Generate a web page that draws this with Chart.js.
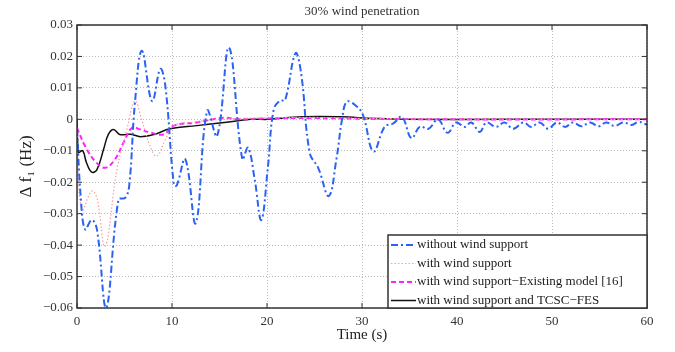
<!DOCTYPE html>
<html>
<head>
    <title>30% wind penetration</title>
    <script src="https://cdn.jsdelivr.net/npm/chart.js"></script>
    <style>
        body { margin: 0; background: #fff; }
        .container { width: 675px; height: 352px; }
    </style>
</head>
<body>
    <div class="container">
        <canvas id="freqChart" width="675" height="352"></canvas>
    </div>
    <script>
        // values
        const chartTitle = '30% wind penetration';
        const yTicks = [0.03, 0.02, 0.01, 0, -0.01, -0.02, -0.03, -0.04, -0.05, -0.06];
        const xTicks = [0, 10, 20, 30, 40, 50, 60];

        const noWindT = [0, 0.4, 0.85, 1.55, 2.1, 3.06, 4.37, 5.07, 5.5, 6.1, 6.83, 7.9, 8.77, 9.3, 10.2, 10.5, 11.4, 12.5, 13.7, 14.75, 16.0, 17.4, 18.0, 18.7, 19.4, 20.1, 20.7, 21.4, 21.9, 23.0, 23.6, 24.5, 25.4, 26.5, 27.3, 27.9, 28.4, 29.3, 30.1, 31.2, 32.4, 33.3, 34.2, 35.2, 36.1, 37.0, 38.0, 39.0, 39.9, 40.8, 41.5, 42.4, 43.1, 44.1, 45.0, 45.9, 47.0, 47.8, 48.7, 49.6, 50.5, 51.4, 52.2, 53.1, 54.0, 54.9, 55.7, 56.6, 57.5, 58.4, 59.1, 60];
        const noWindV = [-0.003, -0.025, -0.035, -0.032, -0.035, -0.06, -0.0255, -0.025, -0.021, 0.0053, 0.0218, 0.0058, 0.016, 0.0106, -0.021, -0.021, -0.0127, -0.033, 0.0027, -0.0053, 0.0228, -0.0127, -0.009, -0.019, -0.032, -0.015, 0.003, 0.006, 0.006, 0.021, 0.0145, -0.0107, -0.0155, -0.0244, -0.0128, 0, 0.0056, 0.0045, 0.0014, -0.0102, -0.0023, -0.0013, 0.0008, -0.006, -0.0023, -0.003, 0, -0.0043, -0.001, -0.0024, -0.001, -0.004, -0.001, -0.0024, -0.001, -0.003, -0.001, -0.0024, -0.001, -0.003, -0.001, -0.0024, -0.001, -0.0022, -0.001, -0.0022, -0.001, -0.0021, -0.001, -0.0018, -0.0008, -0.0017];

        const windT = [0, 0.5, 1.55, 2.1, 2.96, 4.2, 5.25, 6.1, 6.8, 7.7, 8.4, 9.3, 10.2, 12, 15, 20, 25, 30, 40, 60];
        const windV = [-0.003, -0.029, -0.0228, -0.025, -0.0403, -0.016, -0.0032, 0.0058, 0, -0.0085, -0.0117, -0.0064, -0.002, -0.001, 0, 0.0005, 0.0006, 0.0003, 0.0001, 0];

        const existingT = [0, 0.85, 1.9, 2.96, 4.0, 4.9, 5.8, 6.65, 7.7, 9.1, 10.2, 12.6, 15.5, 16.9, 20, 25, 30, 40, 60];
        const existingV = [-0.0027, -0.0085, -0.0133, -0.0154, -0.0127, -0.0074, -0.0027, -0.0032, -0.0042, -0.0048, -0.002, -0.001, 0.0005, 0, 0.0003, 0.0004, 0.0002, 0, 0];

        const tcscT = [0, 0.15, 0.6, 1.0, 1.55, 2.1, 2.8, 3.3, 3.84, 4.5, 5.25, 5.8, 6.65, 8.1, 9.8, 12.6, 15.5, 18.3, 20.1, 23.6, 27.7, 31.2, 35, 45, 60];
        const tcscV = [0, -0.0105, -0.01, -0.0138, -0.0168, -0.016, -0.0095, -0.0048, -0.0032, -0.0048, -0.0048, -0.0048, -0.0055, -0.0048, -0.003, -0.002, -0.001, 0, 0, 0.0008, 0.0008, 0.0003, 0, 0, 0];

        function toPoints(ts, vs) {
            return ts.map((t, i) => ({ x: t, y: vs[i] }));
        }

        function fmt(v) {
            if (Math.abs(v) < 1e-9) return '0';
            const s = Math.abs(v).toFixed(2);
            return v < 0 ? '\u2212' + s : s;
        }

        const serif = 'Liberation Serif, Times New Roman, serif';

        // frame, title and in-plot legend
        const framePlugin = {
            id: 'frame',
            afterDraw(chart) {
                const { ctx, chartArea: a } = chart;
                ctx.save();
                ctx.strokeStyle = '#333';
                ctx.lineWidth = 1.5;
                ctx.strokeRect(a.left, a.top, a.right - a.left, a.bottom - a.top);

                // inward tick marks
                ctx.lineWidth = 1;
                const xs = chart.scales.x, ys = chart.scales.y;
                xTicks.forEach(t => {
                    const px = xs.getPixelForValue(t);
                    ctx.beginPath();
                    ctx.moveTo(px, a.bottom); ctx.lineTo(px, a.bottom - 5);
                    ctx.moveTo(px, a.top); ctx.lineTo(px, a.top + 5);
                    ctx.stroke();
                });
                yTicks.forEach(v => {
                    const py = ys.getPixelForValue(v);
                    ctx.beginPath();
                    ctx.moveTo(a.left, py); ctx.lineTo(a.left + 5, py);
                    ctx.moveTo(a.right, py); ctx.lineTo(a.right - 5, py);
                    ctx.stroke();
                });

                ctx.fillStyle = '#333';
                ctx.font = '13px ' + serif;
                ctx.textAlign = 'center';
                ctx.textBaseline = 'middle';
                ctx.fillText(chartTitle, (a.left + a.right) / 2, 12);

                // legend box
                const bx = 388, by = 235, bw = a.right - bx, bh = a.bottom - by;
                ctx.fillStyle = '#fff';
                ctx.fillRect(bx, by, bw, bh);
                ctx.strokeStyle = '#333';
                ctx.lineWidth = 1.5;
                ctx.strokeRect(bx, by, bw, bh);
                ctx.textAlign = 'left';
                chart.data.datasets.forEach((ds, i) => {
                    const y = by + 10 + i * 18.5;
                    ctx.beginPath();
                    ctx.strokeStyle = ds.borderColor;
                    ctx.lineWidth = ds.borderWidth;
                    ctx.setLineDash(ds.borderDash || []);
                    ctx.moveTo(bx + 3, y);
                    ctx.lineTo(bx + 28, y);
                    ctx.stroke();
                    ctx.setLineDash([]);
                    ctx.fillStyle = '#222';
                    ctx.fillText(ds.label, bx + 29, y);
                });
                ctx.restore();
            }
        };

        const ctx = document.getElementById('freqChart').getContext('2d');
        new Chart(ctx, {
            type: 'line',
            data: {
                datasets: [
                    {
                        label: 'without wind support',
                        data: toPoints(noWindT, noWindV),
                        borderColor: '#2a62f5',
                        borderWidth: 2,
                        borderDash: [7, 3, 2, 3],
                        tension: 0.4
                    },
                    {
                        label: 'with wind support',
                        data: toPoints(windT, windV),
                        borderColor: '#f4a0a0',
                        borderWidth: 1.2,
                        borderDash: [1.5, 2],
                        tension: 0.4
                    },
                    {
                        label: 'with wind support\u2212Existing model [16]',
                        data: toPoints(existingT, existingV),
                        borderColor: '#ff22ff',
                        borderWidth: 2,
                        borderDash: [5, 3],
                        tension: 0.4
                    },
                    {
                        label: 'with wind support and TCSC\u2212FES',
                        data: toPoints(tcscT, tcscV),
                        borderColor: '#111',
                        borderWidth: 1.5,
                        tension: 0.4
                    }
                ]
            },
            options: {
                responsive: false,
                animation: false,
                layout: { padding: { left: 0, top: 25, right: 28, bottom: 0 } },
                elements: { point: { radius: 0 } },
                plugins: {
                    legend: { display: false },
                    tooltip: { enabled: false }
                },
                scales: {
                    x: {
                        type: 'linear',
                        min: 0,
                        max: 60,
                        afterFit(scale) { scale.height = 44; },
                        afterBuildTicks(scale) { scale.ticks = xTicks.map(v => ({ value: v })); },
                        grid: { color: '#bbb', drawTicks: false },
                        border: { display: false, dash: [1, 2] },
                        ticks: {
                            color: '#333',
                            padding: 6,
                            maxRotation: 0,
                            font: { family: serif, size: 13 }
                        },
                        title: {
                            display: true,
                            text: 'Time (s)',
                            color: '#222',
                            font: { family: serif, size: 15 },
                            padding: { top: 0, bottom: 8 }
                        }
                    },
                    y: {
                        min: -0.06,
                        max: 0.03,
                        afterFit(scale) { scale.width = 77; },
                        afterBuildTicks(scale) { scale.ticks = yTicks.map(v => ({ value: v })); },
                        grid: { color: '#bbb', drawTicks: false },
                        border: { display: false, dash: [1, 2] },
                        ticks: {
                            color: '#333',
                            padding: 4,
                            callback: v => fmt(v),
                            font: { family: serif, size: 13 }
                        },
                        title: {
                            display: true,
                            text: '\u0394 f\u2081 (Hz)',
                            color: '#222',
                            font: { family: serif, size: 17 },
                            padding: { top: 16, bottom: 0 }
                        }
                    }
                }
            },
            plugins: [framePlugin]
        });
    </script>
</body>
</html>
